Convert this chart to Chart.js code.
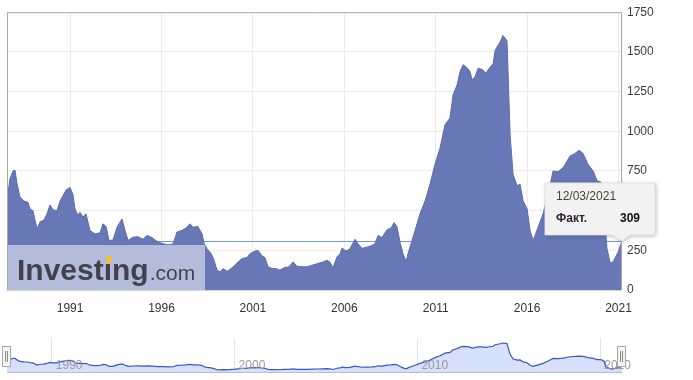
<!DOCTYPE html>
<html><head><meta charset="utf-8">
<script src="https://cdn.jsdelivr.net/npm/chart.js@4"></script>
<style>
html,body{margin:0;padding:0;background:#fff;}
#wrap{position:relative;width:693px;height:380px;overflow:hidden;}
#main{position:absolute;left:0;top:0;}
#nav{position:absolute;left:0;top:336px;}
</style></head><body>
<div id="wrap">
<canvas id="main" width="693" height="322" style="width:693px;height:322px"></canvas>
<canvas id="nav" width="693" height="42" style="width:693px;height:42px"></canvas>
</div>
<script>
// ---- data (decimal years, weekly oil rig count) ----
const dates = [
1987.55,1987.71,1987.88,1987.99,1988.10,1988.26,1988.48,1988.70,1988.81,1988.97,
1989.19,1989.36,1989.57,1989.74,1989.90,1990.07,1990.29,1990.45,1990.78,1991.00,
1991.16,1991.27,1991.43,1991.54,1991.71,1991.87,1992.09,1992.36,1992.64,1992.80,
1992.97,1993.13,1993.35,1993.57,1993.84,1994.01,1994.17,1994.44,1994.72,1994.99,
1995.21,1995.48,1995.81,1996.08,1996.36,1996.63,1996.85,1997.12,1997.34,1997.56,
1997.72,1997.99,1998.22,1998.33,1998.49,1998.71,1998.87,1999.04,1999.20,1999.37,
1999.59,1999.75,2000.02,2000.19,2000.41,2000.68,2000.84,2001.12,2001.28,2001.50,
2001.66,2001.83,2002.05,2002.27,2002.48,2002.70,2002.98,2003.20,2003.41,2003.69,
2003.96,2004.23,2004.56,2004.84,2005.05,2005.22,2005.38,2005.60,2005.77,2005.88,
2006.09,2006.31,2006.59,2006.75,2006.97,2007.24,2007.52,2007.68,2007.85,2008.06,
2008.34,2008.56,2008.72,2008.88,2009.05,2009.21,2009.38,2009.49,2009.65,2009.87,
2010.14,2010.42,2010.69,2010.96,2011.24,2011.51,2011.78,2011.95,2012.17,2012.33,
2012.50,2012.72,2012.88,2012.99,2013.15,2013.32,2013.54,2013.75,2013.92,2014.14,
2014.25,2014.52,2014.68,2014.90,2015.07,2015.23,2015.45,2015.61,2015.78,2016.00,
2016.16,2016.33,2016.60,2016.87,2017.15,2017.42,2017.69,2017.97,2018.35,2018.62,
2018.84,2019.06,2019.33,2019.61,2019.83,2020.04,2020.21,2020.26,2020.37,2020.54,
2020.70,2020.98,2021.19
];
const rigs = [
560,700,750,755,670,585,560,552,510,500,
385,430,440,480,535,505,500,560,630,645,
600,510,470,490,460,480,375,354,360,417,
400,312,315,396,448,375,312,333,335,320,
344,330,302,292,285,290,365,375,390,417,
395,400,354,292,260,230,190,125,115,135,
118,130,156,177,198,205,229,245,250,215,
205,146,135,135,125,140,146,177,150,146,
146,156,167,177,187,175,140,208,229,265,
245,260,320,292,262,270,281,292,344,330,
380,390,425,400,300,230,180,230,292,375,
479,562,667,792,896,1042,1083,1229,1292,1375,
1419,1400,1375,1323,1344,1396,1390,1365,1396,1425,
1510,1562,1604,1570,979,730,656,667,562,510,
375,312,396,479,604,750,745,771,844,860,
880,860,792,750,687,680,600,420,260,172,
177,240,309
];
const yTicks = [0,250,500,750,1000,1250,1500,1750];
const xTickYears = [1991,1996,2001,2006,2011,2016,2021];
const navYears = [1990,2000,2010,2020];
const tipDate = '12/03/2021';
const tipLabel = 'Факт.';
const brandName = 'Investing';
const brandSuffix = '.com';

const FONT = 'Arial, "Liberation Sans", sans-serif';
const points = dates.map((d, i) => ({x: d, y: rigs[i]}));
const lastIdx = dates.length - 1;

const refLine = {
  id: 'refLine',
  beforeDatasetsDraw(chart) {
    const {ctx, chartArea: a, scales} = chart;
    const y = Math.round(scales.y.getPixelForValue(rigs[lastIdx])) + 0.5;
    ctx.save();
    ctx.strokeStyle = '#6f9ae8';
    ctx.lineWidth = 1;
    ctx.beginPath(); ctx.moveTo(a.left, y); ctx.lineTo(a.right, y); ctx.stroke();
    ctx.restore();
  }
};

const watermark = {
  id: 'watermark',
  afterDatasetsDraw(chart) {
    const {ctx, chartArea: a} = chart;
    ctx.save();
    ctx.fillStyle = 'rgba(255,255,255,0.5)';
    ctx.fillRect(a.left, a.bottom - 45, 198, 45);
    const bx = a.left + 10, by = a.bottom - 10;
    ctx.textBaseline = 'alphabetic';
    ctx.textAlign = 'left';
    ctx.fillStyle = '#40434e';
    ctx.font = 'bold 30px ' + FONT;
    ctx.fillText(brandName, bx, by);
    const w = ctx.measureText(brandName).width;
    const iw = ctx.measureText(brandName.slice(0, 6)).width;
    const iiw = ctx.measureText('i').width;
    ctx.font = '21px ' + FONT;
    ctx.fillText(brandSuffix, bx + w + 1, by);
    // yellow dot on the "i"
    ctx.fillStyle = '#f2c12e';
    const dx = bx + iw + iiw / 2;
    ctx.beginPath();
    ctx.moveTo(dx - 2.5, by - 17);
    ctx.lineTo(dx + 3.2, by - 17);
    ctx.lineTo(dx + 4.2, by - 24);
    ctx.lineTo(dx - 1.5, by - 24);
    ctx.closePath();
    ctx.fill();
    ctx.restore();
  }
};

const frame = {
  id: 'frame',
  afterDatasetsDraw(chart) {
    const {ctx, chartArea: a} = chart;
    ctx.save();
    ctx.strokeStyle = '#a8a8a8';
    ctx.lineWidth = 1;
    ctx.beginPath();
    ctx.moveTo(a.left + 0.5, a.bottom);
    ctx.lineTo(a.left + 0.5, a.top + 0.5);
    ctx.lineTo(a.right - 0.5, a.top + 0.5);
    ctx.lineTo(a.right - 0.5, a.bottom);
    ctx.stroke();
    ctx.strokeStyle = '#d8d8d8';
    ctx.beginPath();
    ctx.moveTo(a.left, a.bottom + 0.5); ctx.lineTo(a.right, a.bottom + 0.5);
    ctx.stroke();
    ctx.restore();
  }
};

const tipBox = {
  id: 'tipBox',
  afterDraw(chart) {
    const {ctx, scales} = chart;
    const px = scales.x.getPixelForValue(dates[lastIdx]);
    const py = scales.y.getPixelForValue(rigs[lastIdx]);
    const L = px - 77, R = px + 33, T = py - 58, B = py - 6;
    ctx.save();
    ctx.shadowColor = 'rgba(0,0,0,0.28)';
    ctx.shadowBlur = 4; ctx.shadowOffsetX = 1; ctx.shadowOffsetY = 1;
    ctx.fillStyle = '#f2f2f2';
    ctx.beginPath();
    ctx.moveTo(L, T); ctx.lineTo(R, T); ctx.lineTo(R, B);
    ctx.lineTo(px + 8, B); ctx.lineTo(px, py); ctx.lineTo(px - 10, B);
    ctx.lineTo(L, B); ctx.closePath();
    ctx.fill();
    ctx.shadowColor = 'transparent';
    ctx.strokeStyle = '#e0e0e0';
    ctx.stroke();
    ctx.textBaseline = 'middle';
    ctx.textAlign = 'left';
    ctx.fillStyle = '#4a4230';
    ctx.font = '12px ' + FONT;
    ctx.fillText(tipDate, L + 11, T + 14);
    ctx.fillStyle = '#2a2436';
    ctx.font = 'bold 12px ' + FONT;
    ctx.fillText(tipLabel, L + 11, T + 36);
    ctx.textAlign = 'right';
    ctx.fillStyle = '#111';
    ctx.fillText(String(rigs[lastIdx]), R - 15, T + 36);
    ctx.restore();
  }
};

new Chart(document.getElementById('main'), {
  type: 'line',
  data: { datasets: [{
    data: points, fill: 'origin',
    backgroundColor: 'rgb(104,120,182)', borderColor: 'rgb(94,109,172)',
    borderWidth: 1, pointRadius: 0, tension: 0
  }]},
  options: {
    responsive: false, animation: false, events: [],
    layout: { padding: { top: 10, left: 7, right: 0, bottom: 0 } },
    plugins: { legend: { display: false }, tooltip: { enabled: false } },
    scales: {
      x: {
        type: 'linear', min: 1987.55, max: 2021.19,
        afterBuildTicks: s => { s.ticks = xTickYears.map(v => ({ value: v })); },
        afterFit: s => { s.height = 32; },
        grid: { color: '#ececec', drawTicks: false },
        border: { display: false },
        ticks: { padding: 11, color: '#333', autoSkip: false, maxRotation: 0,
          font: { family: FONT, size: 12 }, callback: v => String(v) }
      },
      y: {
        position: 'right', min: 0, max: 1750,
        afterBuildTicks: s => { s.ticks = yTicks.map(v => ({ value: v })); },
        afterFit: s => { s.width = 71; },
        grid: { color: '#ececec', drawTicks: false },
        border: { display: false },
        ticks: { padding: 5, color: '#3a3a48', font: { family: FONT, size: 12 },
          callback: v => String(v) }
      }
    }
  },
  plugins: [refLine, watermark, frame, tipBox]
});

const navDeco = {
  id: 'navDeco',
  afterDraw(chart) {
    const {ctx, chartArea: a, scales} = chart;
    ctx.save();
    ctx.font = '12px ' + FONT;
    ctx.fillStyle = '#9a9a9a';
    ctx.textBaseline = 'middle';
    ctx.textAlign = 'left';
    navYears.forEach(yr => {
      ctx.fillText(String(yr), scales.x.getPixelForValue(yr) + 4, a.bottom - 6);
    });
    ctx.strokeStyle = '#bdbdbd';
    ctx.beginPath(); ctx.moveTo(a.left, a.bottom + 0.5); ctx.lineTo(a.right, a.bottom + 0.5); ctx.stroke();
    [a.left - 2, a.right - 2].forEach(hx => {
      ctx.fillStyle = '#f5f5f5';
      ctx.strokeStyle = '#a8a8a8';
      ctx.fillRect(hx - 2.5, a.top + 8.5, 8, 20);
      ctx.strokeRect(hx - 2.5, a.top + 8.5, 8, 20);
      ctx.strokeStyle = '#8a8a8a';
      ctx.beginPath();
      ctx.moveTo(hx + 0.5, a.top + 13); ctx.lineTo(hx + 0.5, a.top + 24);
      ctx.moveTo(hx + 2.5, a.top + 13); ctx.lineTo(hx + 2.5, a.top + 24);
      ctx.stroke();
    });
    ctx.restore();
  }
};

new Chart(document.getElementById('nav'), {
  type: 'line',
  data: { datasets: [{
    data: points, fill: 'origin',
    backgroundColor: 'rgb(214,224,250)', borderColor: 'rgb(58,88,190)',
    borderWidth: 1.2, pointRadius: 0, tension: 0
  }]},
  options: {
    responsive: false, animation: false, events: [],
    layout: { padding: { top: 2, left: 7, right: 71, bottom: 6 } },
    plugins: { legend: { display: false }, tooltip: { enabled: false } },
    scales: {
      x: {
        type: 'linear', min: 1987.55, max: 2021.19,
        afterBuildTicks: s => { s.ticks = navYears.map(v => ({ value: v })); },
        afterFit: s => { s.height = 0; },
        grid: { color: '#e4e4e4', drawTicks: false },
        border: { display: false },
        ticks: { display: false }
      },
      y: { display: false, min: 0, max: 1880 }
    }
  },
  plugins: [navDeco]
});
</script>
</body></html>
